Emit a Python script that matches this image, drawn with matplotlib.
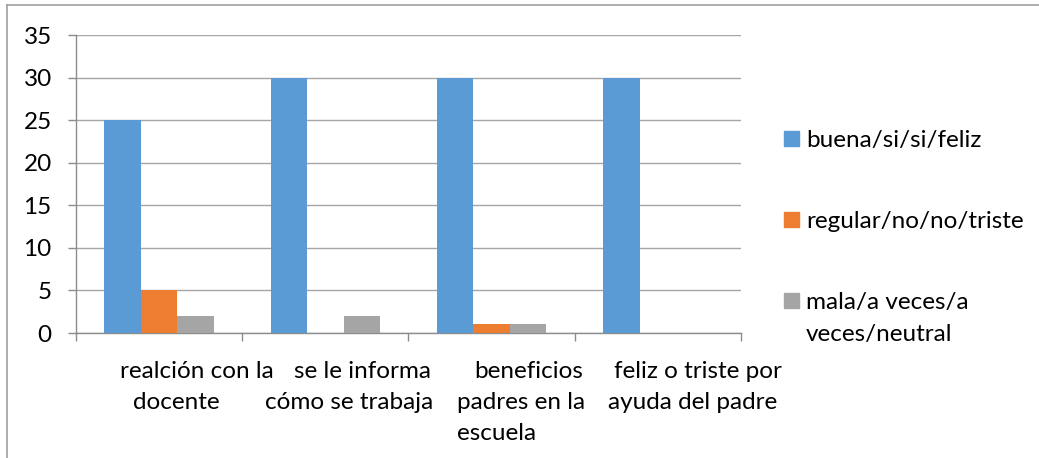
import matplotlib
matplotlib.use("Agg")
import matplotlib.pyplot as plt
from matplotlib.patches import Rectangle
from matplotlib.lines import Line2D

plt.rcParams['font.family'] = ['Lato', 'DejaVu Sans']

# ---- data ----
categories = [
    ["realción con la", "docente"],
    ["se le informa", "cómo se trabaja"],
    ["beneficios", "padres en la", "escuela"],
    ["feliz o triste por", "ayuda del padre"],
]
series_names = [["buena/si/si/feliz"], ["regular/no/no/triste"], ["mala/a veces/a", "veces/neutral"]]
buena = [25, 30, 30, 30]
regular = [5, 0, 1, 0]
mala = [2, 2, 1, 0]
y_ticks = [0, 5, 10, 15, 20, 25, 30, 35]

# ---- style ----
colors = ["#5B9BD5", "#ED7D31", "#A5A5A5"]
grid_c = "#A6A6A6"
axis_c = "#8C8C8C"
fs = 17.5

W, H = 1039, 458
fig = plt.figure(figsize=(W / 100, H / 100), dpi=100)
ax = fig.add_axes([76 / W, 1 - 333 / H, 665 / W, 298 / H])

values = [buena, regular, mala]
bw = 0.22
xs = list(range(len(categories)))
for k, (vals, c) in enumerate(zip(values, colors)):
    ax.bar([x + (k - 1) * bw for x in xs], vals, width=bw, color=c, zorder=3)

ax.set_xlim(-0.5, len(categories) - 0.5)
ax.set_ylim(0, 35)
ax.set_yticks(y_ticks)
ax.set_yticklabels([str(t) for t in y_ticks], fontsize=fs)
ax.set_xticks([i - 0.5 for i in range(len(categories) + 1)])
ax.set_xticklabels([])
ax.yaxis.grid(True, color=grid_c, linewidth=1.0, zorder=0)
ax.set_axisbelow(True)
for s in ["top", "right"]:
    ax.spines[s].set_visible(False)
for s in ["left", "bottom"]:
    ax.spines[s].set_color(axis_c)
    ax.spines[s].set_linewidth(1.0)
ax.tick_params(axis="both", direction="out", length=6, width=1.0, color=axis_c)
ax.tick_params(axis="y", pad=11.5)

# category labels (Excel-like offsets of each wrapped line)
line_offsets = [
    [0.228, 0.101],
    [0.226, 0.142],
    [0.225, 0.177, 0.032],
    [0.241, 0.211],
]
base_px = [45, 76, 107]
tr = ax.get_xaxis_transform()
for i, (lines, offs) in enumerate(zip(categories, line_offsets)):
    for j, (ln, off) in enumerate(zip(lines, offs)):
        ax.text(i + off, -base_px[j] / 298, ln, transform=tr, ha="center",
                va="baseline", fontsize=fs, color="black", clip_on=False)

# legend (manual)
leg_y = [138, 219, 300]
for lines, c, yy in zip(series_names, colors, leg_y):
    fig.patches.append(Rectangle((784 / W, 1 - (yy + 7.5) / H), 15 / W, 15 / H,
                                 transform=fig.transFigure, color=c))
    for j, ln in enumerate(lines):
        fig.text(806 / W, 1 - (yy + 9 + 32 * j) / H, ln, fontsize=fs, va="baseline",
                 ha="left", color="black")

# outer border (top and left only visible)
fig.add_artist(Line2D([7 / W, 1], [1 - 5 / H, 1 - 5 / H], color="#A0A0A0", lw=1.2,
                      transform=fig.transFigure))
fig.add_artist(Line2D([7 / W, 7 / W], [1 - 5 / H, 0], color="#A0A0A0", lw=1.2,
                      transform=fig.transFigure))

fig.savefig("out.png", dpi=100, facecolor="white")
